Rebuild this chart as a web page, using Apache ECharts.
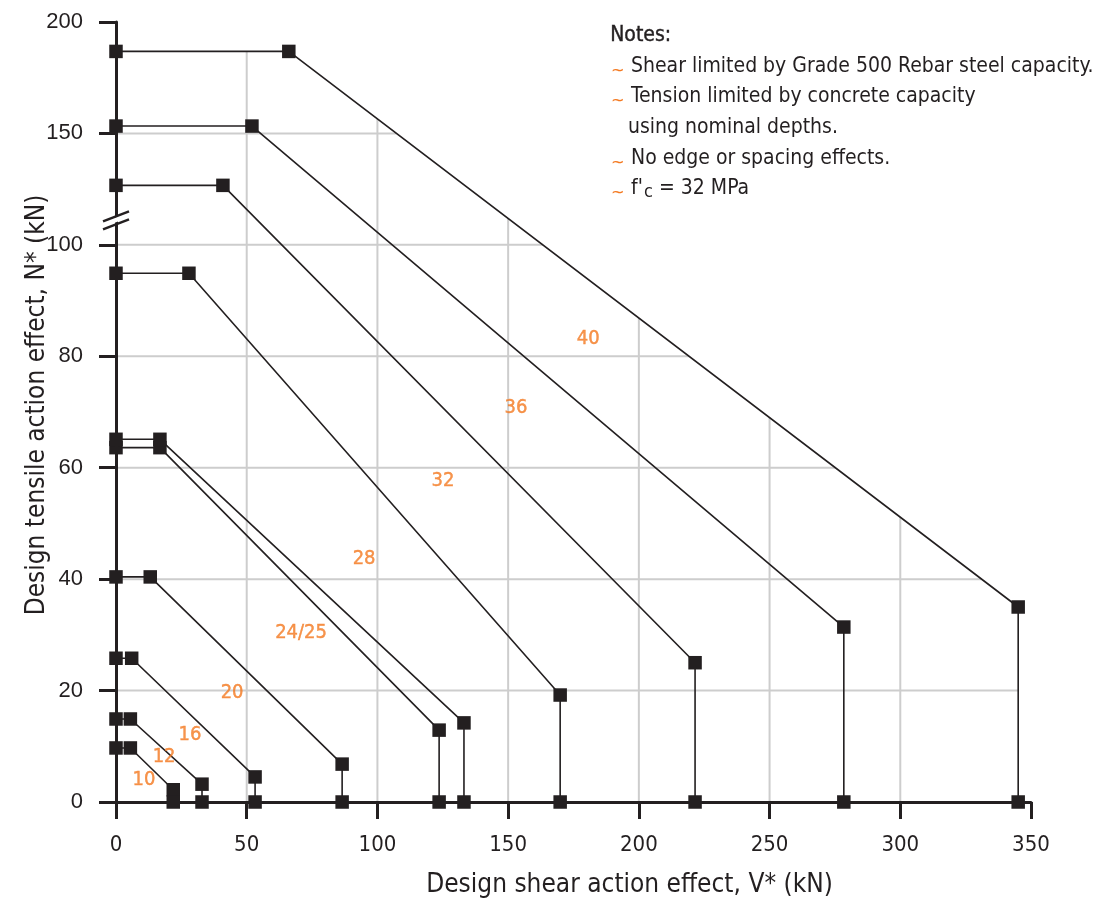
<!DOCTYPE html>
<html><head><meta charset="utf-8">
<script src="https://cdn.jsdelivr.net/npm/echarts@6/dist/echarts.min.js"></script>
<style>html,body{margin:0;padding:0;background:#fff}#c{width:1097px;height:910px}</style>
</head><body><div id="c"></div>
<script>
// ---- data (V* in kN, N* in kN) ----
const curve10 = [[0, 9.7], [5.5, 9.7], [21.9, 2.2], [21.9, 0]];
const curve12 = [[0, 14.9], [5.5, 14.9], [32.9, 3.2], [32.9, 0]];
const curve16 = [[0, 25.8], [6, 25.8], [53.2, 4.5], [53.2, 0]];
const curve20 = [[0, 40.4], [13.1, 40.4], [86.5, 6.8], [86.5, 0]];
const curve24 = [[0, 63.6], [16.8, 63.6], [123.6, 12.9], [123.6, 0]];
const curve25 = [[0, 65.1], [16.8, 65.1], [133.1, 14.2], [133.1, 0]];
const curve28 = [[0, 94.9], [27.9, 94.9], [169.9, 19.2], [169.9, 0]];
const curve32 = [[0, 126.7], [40.9, 126.7], [221.5, 25.0], [221.5, 0]];
const curve36 = [[0, 153.3], [52, 153.3], [278.4, 31.4], [278.4, 0]];
const curve40 = [[0, 186.8], [66.1, 186.8], [345.1, 35.0], [345.1, 0]];
const curveNames = ['10', '12', '16', '20', '24', '25', '28', '32', '36', '40'];
const curves = [curve10, curve12, curve16, curve20, curve24, curve25, curve28, curve32, curve36, curve40];
// curve labels: [V, N, text]
const curveLabels = [
  [180.6, 83.2, '40'], [153.0, 70.7, '36'], [125.1, 57.6, '32'], [94.9, 43.6, '28'],
  [70.8, 30.3, '24/25'], [44.4, 19.6, '20'], [28.3, 12.0, '16'], [18.4, 8.1, '12'], [10.7, 4.0, '10']
];
const xTicks = [0, 50, 100, 150, 200, 250, 300, 350];
const yTicks = [0, 20, 40, 60, 80, 100, 150, 200];
const yTickLabels = ['0', '20', '40', '60', '80', '100', '150', '200'];
const axisBreakAt = 111; // N value where the axis break mark sits
const notesTitle = 'Notes:';
const notesLines = ['Shear limited by Grade 500 Rebar steel capacity.', 'Tension limited by concrete capacity', 'using nominal depths.', 'No edge or spacing effects.'];

// ---- broken y scale: linear to 100, then compressed ----
const BREAK_V = 100, UPPER_K = 0.4;
const toD = v => v <= BREAK_V ? v : BREAK_V + (v - BREAK_V) * UPPER_K;

const COND = "'DejaVu Sans Condensed','Liberation Sans Narrow',sans-serif";
const INK = '#231f20', ORANGE = '#f47920', GRID = '#cdcdcd';

// envelope of the largest curve (grid lines only drawn beneath it)
const env = curve40.map(p => [p[0], toD(p[1])]);
function envTop(v) {
  for (let i = 0; i < env.length - 1; i++) {
    const a = env[i], b = env[i + 1];
    if (v >= a[0] && v <= b[0] && b[0] > a[0]) return a[1] + (b[1] - a[1]) * (v - a[0]) / (b[0] - a[0]);
  }
  return null;
}
function envRight(d) {
  for (let i = 0; i < env.length - 1; i++) {
    const a = env[i], b = env[i + 1];
    const lo = Math.min(a[1], b[1]), hi = Math.max(a[1], b[1]);
    if (d >= lo && d <= hi && a[1] !== b[1]) return a[0] + (b[0] - a[0]) * (d - a[1]) / (b[1] - a[1]);
  }
  return null;
}
const gridData = [];
xTicks.forEach(v => { if (v > 0) { const t = envTop(v); if (t !== null) gridData.push([v, 0, v, t]); } });
yTicks.forEach(n => { const d = toD(n); if (d > 0) { const r = envRight(d); if (r !== null) gridData.push([0, d, r, d]); } });

const chart = echarts.init(document.getElementById('c'), null, {renderer: 'canvas'});

const series = [];
series.push({
  type: 'custom', z: 1, silent: true, clip: false,
  data: gridData,
  renderItem: (params, api) => {
    const p1 = api.coord([api.value(0), api.value(1)]);
    const p2 = api.coord([api.value(2), api.value(3)]);
    return {type: 'line', shape: {x1: p1[0], y1: p1[1], x2: p2[0], y2: p2[1]}, style: {stroke: GRID, lineWidth: 2}};
  }
});
curves.forEach((c, i) => {
  series.push({
    type: 'line', name: curveNames[i], z: 3,
    data: c.map(p => [p[0], toD(p[1])]),
    symbol: 'rect', symbolSize: 13.5, showSymbol: true,
    itemStyle: {color: INK},
    lineStyle: {color: INK, width: 1.6},
    clip: false
  });
});
series.push({
  type: 'scatter', z: 6, silent: true,
  data: curveLabels.map(l => ({value: [l[0], toD(l[1])], name: l[2]})),
  symbolSize: 1, itemStyle: {color: 'transparent'},
  label: {show: true, position: 'inside', formatter: '{b}', color: ORANGE, fontSize: 20, fontFamily: COND,
    textBorderColor: ORANGE, textBorderWidth: 0.4}
});
// axis break mark
series.push({
  type: 'custom', z: 8, silent: true, clip: false,
  data: [[0, toD(axisBreakAt)]],
  renderItem: (params, api) => {
    const p = api.coord([api.value(0), api.value(1)]);
    return {
      type: 'group', children: [
        {type: 'polygon', shape: {points: [[p[0]-8, p[1]+5], [p[0]+8, p[1]-1], [p[0]+8, p[1]-6], [p[0]-8, p[1]]]},
          style: {fill: '#fff'}},
        {type: 'line', shape: {x1: p[0]-13, y1: p[1]+1, x2: p[0]+13, y2: p[1]-9}, style: {stroke: INK, lineWidth: 2.5}},
        {type: 'line', shape: {x1: p[0]-13, y1: p[1]+9, x2: p[0]+13, y2: p[1]-1}, style: {stroke: INK, lineWidth: 2.5}}
      ]
    };
  }
});

const graphics = [];
graphics.push({type: 'text', left: 610, top: 25, z: 100,
  style: {text: notesTitle, font: '21px ' + COND, fill: INK, stroke: INK, lineWidth: 0.4}});
const tops = [56, 86, 117, 148, 178];
const lineLefts = [631, 631, 628, 631];
notesLines.forEach((t, i) => {
  graphics.push({type: 'text', left: lineLefts[i], top: tops[i], z: 100,
    style: {text: t, font: '21px ' + COND, fill: INK}});
});
[0, 1, 3, 4].forEach(r => {
  graphics.push({type: 'text', left: 611, top: tops[r] + 6, z: 100,
    style: {text: '~', font: '18px ' + COND, fill: ORANGE}});
});
graphics.push({type: 'text', left: 631, top: 178, z: 100, style: {text: "f'", font: '21px ' + COND, fill: INK}});
graphics.push({type: 'text', left: 644, top: 183, z: 100, style: {text: 'c', font: '18px ' + COND, fill: INK}});
graphics.push({type: 'text', left: 659, top: 178, z: 100, style: {text: '= 32 MPa', font: '21px ' + COND, fill: INK}});

chart.setOption({
  animation: false,
  backgroundColor: '#ffffff',
  grid: {left: 116, right: 66, top: 22, bottom: 108, containLabel: false},
  xAxis: {type: 'value', min: 0, max: xTicks[xTicks.length - 1], interval: 50, z: 5,
    splitLine: {show: false},
    axisLine: {show: true, onZero: false, lineStyle: {color: INK, width: 3}},
    axisTick: {show: true, length: 17, lineStyle: {color: INK, width: 3}},
    axisLabel: {margin: 32, color: INK, fontSize: 22, fontFamily: COND},
    name: 'Design shear action effect, V* (kN)', nameLocation: 'middle', nameGap: 70, nameMoveOverlap: false,
    nameTextStyle: {fontSize: 26, fontFamily: COND, color: INK, padding: [0, 0, 0, 112]}},
  yAxis: {type: 'value', min: 0, max: toD(200), interval: 20, z: 5,
    splitLine: {show: false},
    axisLine: {show: true, onZero: false, lineStyle: {color: INK, width: 3}},
    axisTick: {show: true, length: 17, lineStyle: {color: INK, width: 3}},
    axisLabel: {margin: 33, color: INK, fontSize: 22, fontFamily: "'Liberation Sans',Arial,sans-serif",
      formatter: v => yTickLabels[Math.round(v / 20)]},
    name: 'Design tensile action effect, N* (kN)', nameLocation: 'middle', nameGap: 66, nameRotate: 90,
    nameMoveOverlap: false,
    nameTextStyle: {fontSize: 26, fontFamily: COND, color: INK, padding: [0, 0, 0, 14]}},
  graphic: graphics,
  series: series
});
</script></body></html>
